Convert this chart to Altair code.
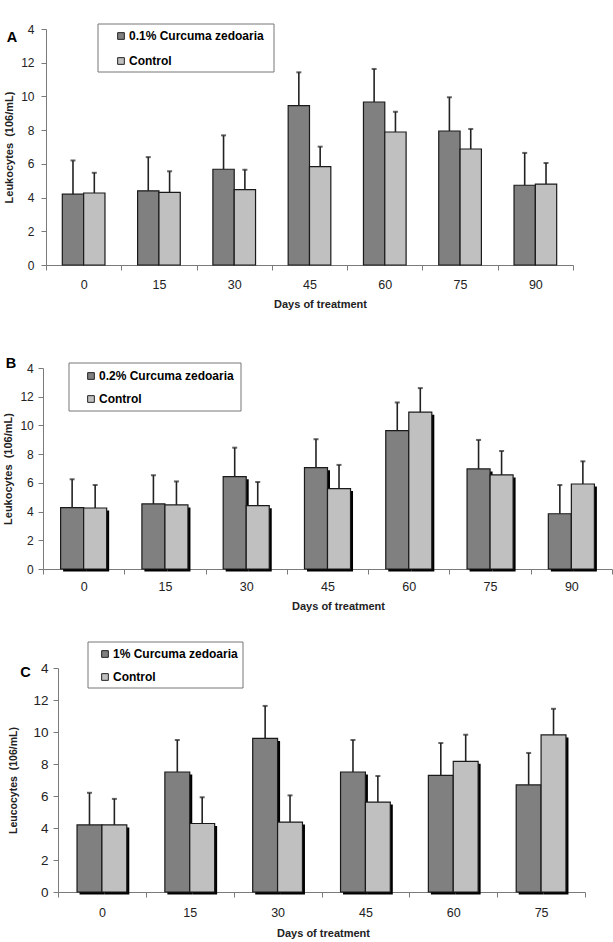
import altair as alt
import pandas as pd

# ---------------- data ----------------
DAYS_AB = ["0", "15", "30", "45", "60", "75", "90"]
DAYS_C = ["0", "15", "30", "45", "60", "75"]

A_TREAT = [4.2, 4.4, 5.68, 9.45, 9.67, 7.95, 4.73]
A_TREAT_ERR = [6.2, 6.4, 7.69, 11.43, 11.63, 9.95, 6.65]
A_CTRL = [4.27, 4.31, 4.47, 5.83, 7.89, 6.88, 4.8]
A_CTRL_ERR = [5.47, 5.56, 5.65, 7.02, 9.09, 8.07, 6.05]

B_TREAT = [4.27, 4.53, 6.43, 7.06, 9.64, 6.97, 3.85]
B_TREAT_ERR = [6.25, 6.53, 8.45, 9.04, 11.6, 8.99, 5.85]
B_CTRL = [4.25, 4.46, 4.41, 5.6, 10.92, 6.55, 5.92]
B_CTRL_ERR = [5.85, 6.1, 6.06, 7.25, 12.6, 8.22, 7.5]

C_TREAT = [4.19, 7.5, 9.6, 7.5, 7.29, 6.69]
C_TREAT_ERR = [6.2, 9.5, 11.63, 9.5, 9.31, 8.69]
C_CTRL = [4.19, 4.28, 4.37, 5.62, 8.17, 9.82]
C_CTRL_ERR = [5.82, 5.92, 6.04, 7.25, 9.83, 11.45]

NAME_A = "0.1% Curcuma zedoaria"
NAME_B = "0.2% Curcuma zedoaria"
NAME_C = "1% Curcuma zedoaria"
CONTROL = "Control"
TITLE_AB = "Leukocytes\u00a0 (106/mL)"
TITLE_C = "Leucocytes\u00a0 (106/mL)"
X_TITLE = "Days of treatment"
Y_TICKS = [0, 2, 4, 6, 8, 10, 12, 14]

# ---------------- style ----------------
FONT = "Liberation Sans"
DARK = "#808080"
LIGHT = "#c0c0c0"
INK = "#222222"
AXIS_GRAY = "#7a7a7a"
PO = 0.765

ONE = pd.DataFrame({"k": [0]})


def long_df(days, treat, treat_err, ctrl, ctrl_err, name):
    return pd.DataFrame({
        "day": list(days) * 2,
        "group": [name] * len(days) + [CONTROL] * len(days),
        "value": list(treat) + list(ctrl),
        "err": list(treat_err) + list(ctrl_err),
    })


def panel(df, days, name, c):
    groups = [name, CONTROL]
    W, H = c["w"], c["h"]
    step = W / len(days)

    x = alt.X(
        "day:N", sort=days,
        scale=alt.Scale(paddingInner=0, paddingOuter=0),
        axis=alt.Axis(
            title=X_TITLE, labelAngle=0, tickBand="extent", tickSize=5,
            tickColor=AXIS_GRAY, domainColor=AXIS_GRAY, domainWidth=1,
            labelFont=FONT, labelFontSize=12.5, labelColor=INK,
            labelPadding=c["xlp"], titleFont=FONT, titleFontSize=11,
            titleFontWeight="bold", titleColor=INK, titlePadding=c["xtp"],
            titleX=c["titleX"], grid=False,
        ),
    )
    xo = alt.XOffset("group:N", sort=groups,
                     scale=alt.Scale(domain=groups, paddingInner=0, paddingOuter=PO))
    yscale = alt.Scale(domain=[0, 14], nice=False)
    yaxis = alt.Axis(
        title=c["ytitle"], values=Y_TICKS,
        labelExpr="datum.value == 14 ? '4' : datum.label",
        tickSize=5, tickColor=AXIS_GRAY, domainColor=AXIS_GRAY,
        labelFont=FONT, labelFontSize=c["ylfs"], labelColor=INK,
        labelPadding=c["ylp"], titleFont=FONT, titleFontSize=c["ytfs"],
        titleFontWeight="bold", titleColor=INK, titlePadding=c["ytp"],
        grid=False,
    )
    y = alt.Y("value:Q", scale=yscale, axis=yaxis)

    color = alt.Color(
        "group:N",
        scale=alt.Scale(domain=groups, range=[DARK, LIGHT]),
        legend=alt.Legend(
            orient="none", legendX=c["legX"], legendY=c["legY"], title=None,
            symbolType="square", symbolSize=45, symbolStrokeColor=INK,
            symbolStrokeWidth=1, labelFont=FONT, labelFontSize=12,
            labelFontWeight="bold", labelColor="black", labelOffset=2,
            rowPadding=c["rowPad"], padding=0, zindex=1,
        ),
    )

    layers = []
    bx1, bx2, by1, by2 = c["box"]
    layers.append(
        alt.Chart(ONE).mark_rect(fill="white", stroke="#777777", strokeWidth=1).encode(
            x=alt.value(bx1), x2=alt.value(bx2), y=alt.value(by1), y2=alt.value(by2))
    )
    base = alt.Chart(df)
    if c["shadow"]:
        sh = c["shadow"]
        layers.append(
            base.mark_bar(color="black", yOffset=sh).encode(
                x=x,
                xOffset=alt.XOffset(
                    "group:N", sort=groups,
                    scale=alt.Scale(domain=groups, paddingInner=0, paddingOuter=PO,
                                    range=[sh, step + sh])),
                y=y,
            )
        )
    layers.append(
        base.mark_bar(stroke="#1a1a1a", strokeWidth=1.2).encode(x=x, xOffset=xo, y=y, color=color)
    )
    layers.append(
        base.mark_rule(color=INK, strokeWidth=1.6).encode(
            x=x, xOffset=xo, y=y, y2="err:Q")
    )
    layers.append(
        base.mark_tick(color=INK, thickness=2, size=5).encode(
            x=x, xOffset=xo, y=alt.Y("err:Q", scale=yscale, axis=yaxis))
    )
    lx, ly = c["letter_pos"]
    layers.append(
        alt.Chart(ONE).mark_text(
            text=c["letter"], font=FONT, fontSize=14.5, fontWeight="bold",
            color="black", align="center", baseline="middle").encode(
            x=alt.value(lx), y=alt.value(ly))
    )
    # invisible extent marker (controls layout bounds)
    layers.append(
        alt.Chart(ONE).mark_rule(opacity=0, strokeOpacity=0).encode(
            x=alt.value(W / 2), y=alt.value(-c["top"]), y2=alt.value(H + c["bottom"]))
    )
    ch = alt.layer(*layers).properties(width=W, height=H)
    if c["shadow"]:
        ch = ch.resolve_scale(xOffset="independent")
    spacer = alt.Chart(ONE).mark_rule(opacity=0, strokeOpacity=0).encode(
        x=alt.value(0), y=alt.value(0), y2=alt.value(1)
    ).properties(width=c["left"], height=1)
    return alt.hconcat(spacer, ch, spacing=0, bounds="flush").resolve_scale(color="independent")


dfA = long_df(DAYS_AB, A_TREAT, A_TREAT_ERR, A_CTRL, A_CTRL_ERR, NAME_A)
dfB = long_df(DAYS_AB, B_TREAT, B_TREAT_ERR, B_CTRL, B_CTRL_ERR, NAME_B)
dfC = long_df(DAYS_C, C_TREAT, C_TREAT_ERR, C_CTRL, C_CTRL_ERR, NAME_C)

cfgA = dict(w=527, h=236, left=46, shadow=0, ytitle=TITLE_AB, letter="A",
            letter_pos=(-34, 8.7), box=(52, 228, -5, 43), legX=69, legY=1,
            rowPad=13, xlp=8, xtp=8, titleX=274, ylp=7, ytp=6.5, ylfs=12, ytfs=11,
            top=10, bottom=55)
cfgB = dict(w=569, h=201, left=43, shadow=2.5, ytitle=TITLE_AB, letter="B",
            letter_pos=(-32, -4), box=(26, 198, -5, 43), legX=42, legY=2,
            rowPad=11, xlp=6, xtp=8, titleX=295, ylp=4.7, ytp=6.5, ylfs=12, ytfs=11,
            top=38, bottom=55)
cfgC = dict(w=527, h=224, left=58, shadow=2.5, ytitle=TITLE_C, letter="C",
            letter_pos=(-32.5, 5), box=(30, 185, -26, 20), legX=41, legY=-20,
            rowPad=11, xlp=9, xtp=9, titleX=265, ylp=5, ytp=14, ylfs=13.5, ytfs=10.5,
            top=34, bottom=55)

chart = alt.vconcat(
    panel(dfA, DAYS_AB, NAME_A, cfgA),
    panel(dfB, DAYS_AB, NAME_B, cfgB),
    panel(dfC, DAYS_C, NAME_C, cfgC),
    spacing=10,
).resolve_scale(color="independent").resolve_legend(color="independent").properties(
    padding={"left": 0, "top": 19, "right": 0, "bottom": 0}
).configure(background="white").configure_view(stroke=None)

chart.save("out.html", embed_options={"renderer": "svg", "actions": False})
